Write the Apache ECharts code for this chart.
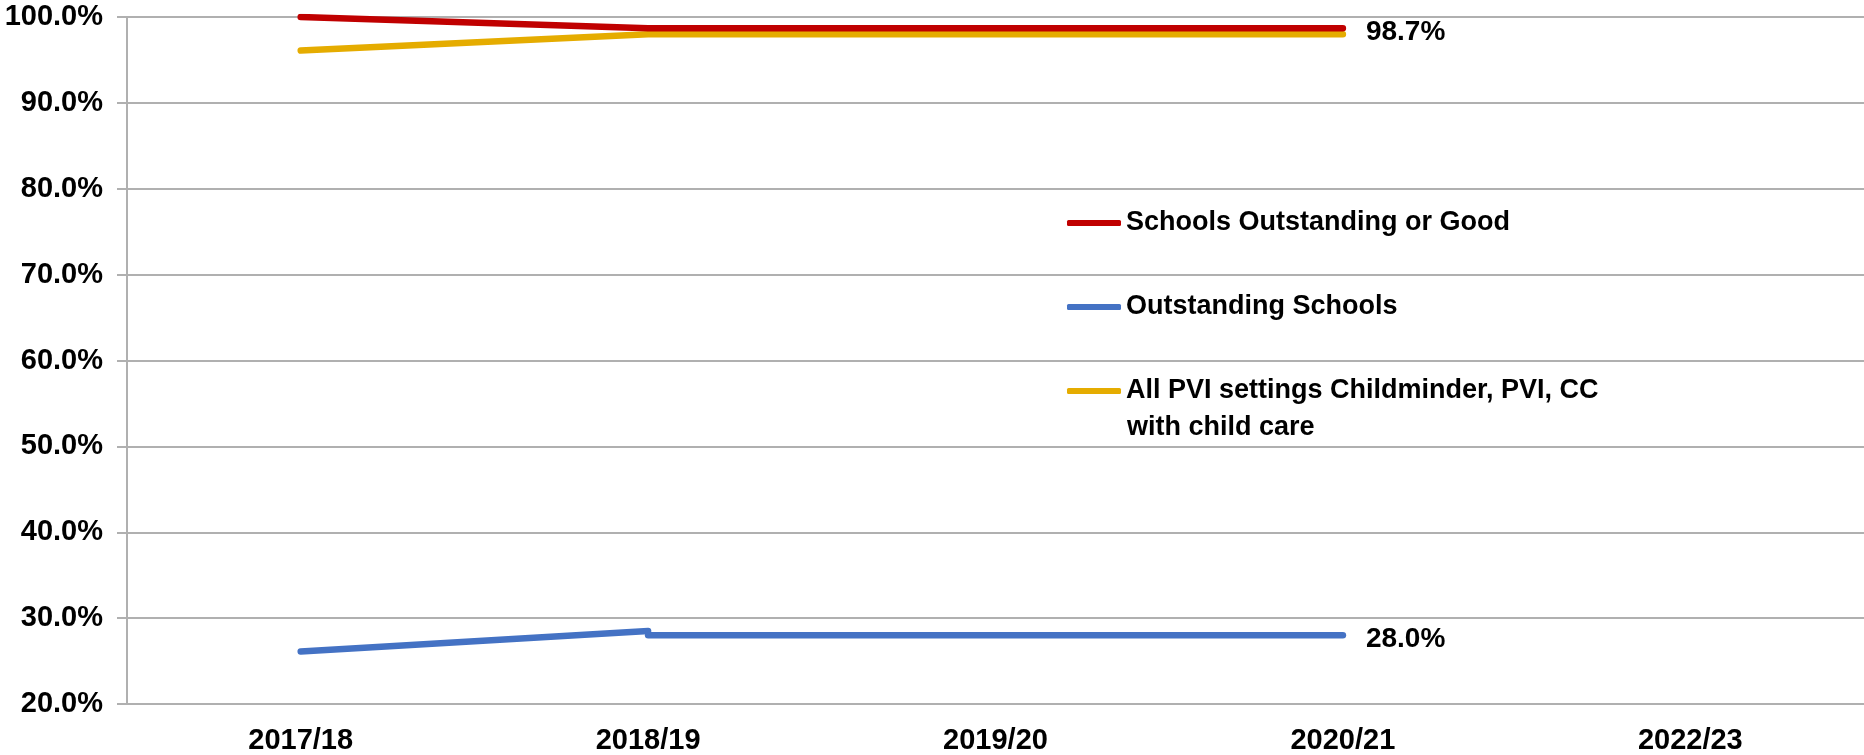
<!DOCTYPE html>
<html>
<head>
<meta charset="utf-8">
<script src="https://cdn.jsdelivr.net/npm/echarts@6/dist/echarts.min.js"></script>
<style>
html, body { margin: 0; padding: 0; background: #fff; }
#chart { width: 1864px; height: 755px; }
</style>
</head>
<body>
<div id="chart"></div>
<script>
var years = ['2017/18', '2018/19', '2019/20', '2020/21', '2022/23'];
var goodOrOutstanding = [100.0, 98.7, 98.7, 98.7, null];
var outstandingStart = [26.1, 28.5, null, null, null];
var outstandingLater = [null, 28.0, 28.0, 28.0, null];
var pviSettings = [96.1, 98.0, 98.0, 98.0, null];

var nameGood = 'Schools Outstanding or Good';
var nameOutstanding = 'Outstanding Schools';
var namePvi = 'All PVI settings Childminder, PVI, CC with child care';

var font = '"Liberation Sans", Arial, sans-serif';

var chart = echarts.init(document.getElementById('chart'));

// label shown at the end of the line
var endLabel = {
    show: true,
    distance: 23,
    offset: [0, 4],
    formatter: function (p) { return p.value.toFixed(1) + '%'; },
    color: '#000',
    fontFamily: font,
    fontWeight: 'bold',
    fontSize: 28
};

var option = {
    animation: false,
    grid: { left: 127, right: 0, top: 17, bottom: 51 },
    legend: {
        orient: 'vertical',
        left: 1062,
        top: 203,
        icon: 'roundRect',
        itemWidth: 54,
        itemHeight: 6,
        itemGap: 54,
        data: [nameGood, nameOutstanding, namePvi],
        formatter: function (n) {
            return n === namePvi ? 'All PVI settings Childminder, PVI, CC' : n;
        },
        textStyle: {
            color: '#000',
            fontFamily: font,
            fontWeight: 'bold',
            fontSize: 27,
            lineHeight: 30
        }
    },
    graphic: [{
        type: 'text',
        left: 1127,
        top: 414,
        silent: true,
        style: {
            text: 'with child care',
            fill: '#000',
            font: 'bold 27px ' + font
        }
    }],
    xAxis: {
        type: 'category',
        data: years,
        boundaryGap: true,
        axisLine: { lineStyle: { color: '#b0b0b0', width: 2 } },
        axisTick: { length: 10, lineStyle: { color: '#b0b0b0', width: 2 } },
        axisLabel: {
            color: '#000',
            fontFamily: font,
            fontWeight: 'bold',
            fontSize: 29,
            margin: 22
        }
    },
    yAxis: {
        type: 'value',
        min: 20,
        max: 100,
        interval: 10,
        axisLine: { show: true, lineStyle: { color: '#b0b0b0', width: 2 } },
        axisTick: { show: true, length: 10, lineStyle: { color: '#b0b0b0', width: 2 } },
        splitLine: { lineStyle: { color: '#b0b0b0', width: 2 } },
        axisLabel: {
            color: '#000',
            fontFamily: font,
            fontWeight: 'bold',
            fontSize: 29,
            margin: 24,
            formatter: function (v) { return v.toFixed(1) + '%'; }
        }
    },
    series: [
        {
            name: nameGood,
            type: 'line',
            data: goodOrOutstanding,
            symbol: 'none',
            color: '#C00000',
            lineStyle: { width: 6.5, cap: 'round', join: 'round' },
            endLabel: endLabel,
            z: 3
        },
        {
            name: nameOutstanding,
            type: 'line',
            data: outstandingStart,
            symbol: 'none',
            color: '#4472C4',
            lineStyle: { width: 6.5, cap: 'round', join: 'round' }
        },
        {
            name: nameOutstanding,
            type: 'line',
            data: outstandingLater,
            symbol: 'none',
            color: '#4472C4',
            lineStyle: { width: 6.5, cap: 'round', join: 'round' },
            endLabel: endLabel
        },
        {
            name: namePvi,
            type: 'line',
            data: pviSettings,
            symbol: 'none',
            color: '#E5AC00',
            lineStyle: { width: 6.5, cap: 'round', join: 'round' },
            z: 2
        }
    ]
};

chart.setOption(option);
</script>
</body>
</html>
